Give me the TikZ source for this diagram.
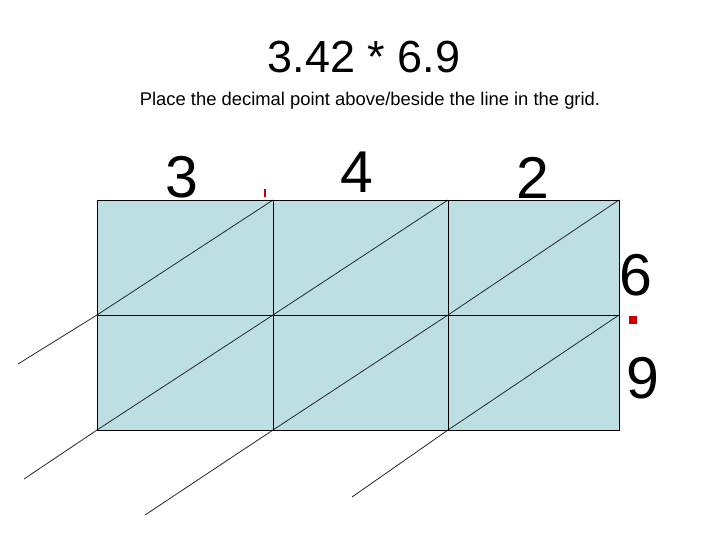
\documentclass[tikz,border=0pt]{standalone}
\usepackage{fontspec}
\setmainfont{Liberation Sans}
\definecolor{cellblue}{RGB}{189,223,227}
\definecolor{markred}{RGB}{200,0,0}
\begin{document}
\begin{tikzpicture}[x=1pt,y=-1pt,
  gridline/.style={draw=black,line width=1pt},
  diag/.style={draw=black!85,line width=0.8pt},
  bigdigit/.style={inner sep=0pt,anchor=base,font=\fontsize{59}{59}\selectfont},
  titletext/.style={inner sep=0pt,anchor=base,font=\fontsize{45}{45}\selectfont},
  subtext/.style={inner sep=0pt,anchor=base,font=\fontsize{18.4}{20}\selectfont}]
\useasboundingbox (0,0) rectangle (728,546);
% grid corners
\foreach \i/\x in {0/97,1/273,2/448,3/619}{
  \foreach \j/\y in {0/200,1/315,2/430}{
    \coordinate (g\i\j) at (\x,\y);
  }
}
\fill[cellblue] (g00) rectangle (g32);
% diagonals in cells
\foreach \i/\k in {0/1,1/2,2/3}{
  \draw[diag] (g\i1) -- (g\k0);
  \draw[diag] (g\i2) -- (g\k1);
}
% extensions
\coordinate (e1) at (18,364);
\coordinate (e2) at (24,479);
\coordinate (e3) at (145,515);
\coordinate (e4) at (352,497);
\draw[diag] (g01) -- (e1);
\draw[diag] (g02) -- (e2);
\draw[diag] (g12) -- (e3);
\draw[diag] (g22) -- (e4);
% grid lines
\draw[gridline] (g00) rectangle (g32);
\draw[gridline] (g01) -- (g31);
\draw[gridline] (g10) -- (g12);
\draw[gridline] (g20) -- (g22);
% texts
\node[titletext] (title) at (364,72) {3.42 * 6.9};
\node[subtext] (sub) at (370,105) {Place the decimal point above/beside the line in the grid.};
\node[bigdigit] (d3) at (182,197) {3};
\node[bigdigit] (d4) at (357,192) {4};
\node[bigdigit] (d2) at (533,198) {2};
\node[bigdigit] (d6) at (636,295) {6};
\node[bigdigit] (d9) at (642.5,398) {9};
% red marks
\coordinate (t1) at (265,189);
\coordinate (t2) at (265,197);
\draw[markred,line width=1.2pt] (t1) -- (t2);
\node[fill=markred,minimum size=8pt,inner sep=0pt] (dot) at (633,320) {};
\end{tikzpicture}
\end{document}
